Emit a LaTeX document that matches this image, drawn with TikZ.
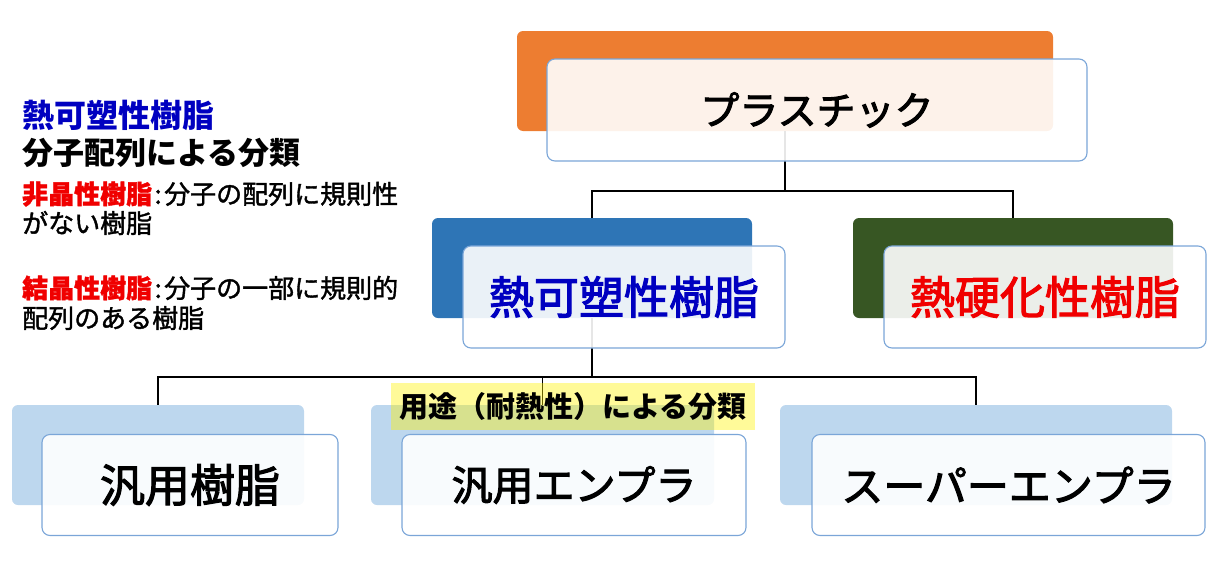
\documentclass[tikz,border=0pt]{standalone}
\usepackage{fontspec}
\setmainfont{Noto Sans CJK JP}
\newfontfamily\medfont{Noto Sans CJK JP}[FakeBold=1.5]
\newfontfamily\boxfont{Noto Sans CJK JP}[FakeBold=2.5]
\definecolor{borange}{HTML}{ED7D31}
\definecolor{bblue}{HTML}{2E75B6}
\definecolor{bgreen}{HTML}{375623}
\definecolor{blight}{HTML}{BDD7EE}
\definecolor{frontline}{HTML}{7BA6D8}
\definecolor{txtblue}{HTML}{0000C0}
\definecolor{txtred}{HTML}{F00000}
\newcommand{\fs}[1]{\fontsize{#1pt}{#1pt}\selectfont}
\begin{document}
\begin{tikzpicture}[x=1pt,y=-1pt,
  back/.style={rounded corners=6pt, inner sep=0pt, draw=none},
  front/.style={rounded corners=8pt, inner sep=0pt, draw=frontline, line width=1.1pt,
    fill=white, fill opacity=0.9, text opacity=1},
  link/.style={line width=1.8pt, draw=black},
  side/.style={anchor=west, inner sep=0pt},
]
\useasboundingbox (0,0) rectangle (1216,568);

% back boxes
\node[back, fill=borange, minimum width=536, minimum height=100] (b0) at (785,81) {};
\node[back, fill=bblue,   minimum width=320, minimum height=100] (b1) at (592,268) {};
\node[back, fill=bgreen,  minimum width=320, minimum height=100] (b2) at (1013,268) {};
\node[back, fill=blight,  minimum width=292, minimum height=100] (b3) at (158,455) {};
\node[back, fill=blight,  minimum width=343, minimum height=100] (b4) at (542.5,455) {};
\node[back, fill=blight,  minimum width=392, minimum height=100] (b5) at (976,455) {};

% connectors
\coordinate (j0) at (785,191);
\coordinate (j1) at (592,377);
\draw[link] (b0.south) -- (j0) -| (b1.north);
\draw[link] (j0) -| (b2.north);
\draw[link] (b1.south) -- (j1) -| (b3.north);
\draw[link] (j1) -| (b4.north);
\draw[link] (j1) -| (b5.north);

% front boxes
\node[front, minimum width=540, minimum height=102, font=\boxfont\fs{39}] (f0) at (817,110) {プラスチック};
\node[front, minimum width=322, minimum height=102, font=\boxfont\fs{45}, text=txtblue] (f1) at (624,297) {熱可塑性樹脂};
\node[front, minimum width=322, minimum height=102, font=\boxfont\fs{45}, text=txtred] (f2) at (1045,297) {熱硬化性樹脂};
\node[front, minimum width=296, minimum height=101, font=\boxfont\fs{45}] (f3) at (190,485) {汎用樹脂};
\node[front, minimum width=344, minimum height=101, font=\boxfont\fs{41}] (f4) at (574,485) {汎用エンプラ};
\node[front, minimum width=393, minimum height=101, font=\boxfont\fs{42}] (f5) at (1008.5,485) {スーパーエンプラ};

% yellow label
\node[inner sep=0pt, fill=yellow, fill opacity=0.4, text opacity=1,
  minimum width=364, minimum height=47, font=\fs{29}\bfseries] (lbl) at (573,406.5) {用途（耐熱性）による分類};

% side text
\node[side, font=\fs{32}\bfseries, text=txtblue] (t1) at (22,115) {熱可塑性樹脂};
\node[side, font=\fs{31}\bfseries] (t2) at (22,153) {分子配列による分類};
\node[side, font=\medfont\fs{26}] (t3) at (22,194) {{\bfseries\color{txtred}非晶性樹脂}\makebox[12pt]{:}分子の配列に規則性};
\node[side, font=\medfont\fs{26}] (t4) at (22,223) {がない樹脂};
\node[side, font=\medfont\fs{26}] (t5) at (22,288) {{\bfseries\color{txtred}結晶性樹脂}\makebox[12pt]{:}分子の一部に規則的};
\node[side, font=\medfont\fs{26}] (t6) at (22,318) {配列のある樹脂};
\end{tikzpicture}
\end{document}
